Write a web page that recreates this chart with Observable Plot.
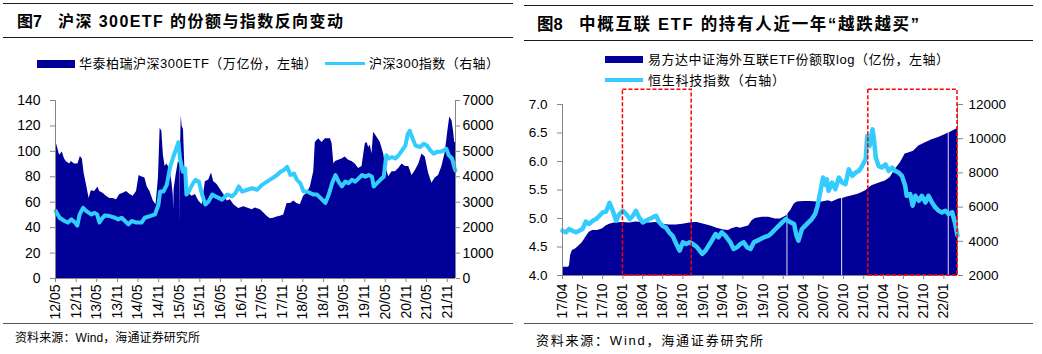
<!DOCTYPE html>
<html lang="zh">
<head>
<meta charset="utf-8">
<script src="https://cdn.jsdelivr.net/npm/d3@7"></script>
<script src="https://cdn.jsdelivr.net/npm/@observablehq/plot@0.6"></script>
<style>
html,body{margin:0;padding:0;background:#fff;}
#page{position:relative;width:1042px;height:354px;overflow:hidden;background:#fff;font-family:"Liberation Sans","Noto Sans CJK SC",sans-serif;color:#000;}
#page .t{position:absolute;white-space:nowrap;display:inline-block;line-height:1;}
#page .blk{position:absolute;}
#page svg{position:absolute;overflow:visible;}
</style>
</head>
<body>
<div id="page"></div>
<script>
// ================= LEFT CHART DATA (图7) =================
const etfDates = [
  "2012-05-04","2012-05-25","2012-06-06","2012-06-30","2012-07-20","2012-08-04","2012-09-03","2012-09-18","2012-10-17","2012-11-16","2012-12-07","2012-12-25",
  "2013-01-09","2013-01-30","2013-02-23","2013-03-14","2013-04-13","2013-05-12","2013-05-27","2013-06-26","2013-07-26","2013-08-25","2013-09-24","2013-10-24","2013-11-22","2013-12-22",
  "2014-01-21","2014-02-20","2014-03-20","2014-04-19","2014-05-12","2014-06-02","2014-07-02","2014-07-23","2014-08-16","2014-09-15","2014-10-09","2014-10-30","2014-11-14","2014-11-29","2014-12-13","2014-12-28",
  "2015-01-12","2015-01-27","2015-02-11","2015-02-26","2015-03-10","2015-03-14","2015-03-18","2015-04-04","2015-04-25","2015-05-08","2015-05-10","2015-05-12","2015-05-20","2015-05-28","2015-06-09","2015-06-24","2015-07-05","2015-07-25","2015-08-24","2015-09-23","2015-10-22","2015-11-21","2015-12-20",
  "2016-01-19","2016-02-12","2016-03-03","2016-04-02","2016-05-01","2016-05-31","2016-06-30","2016-07-29","2016-08-28","2016-10-11","2016-11-25",
  "2017-01-08","2017-02-07","2017-03-07","2017-04-20","2017-05-19","2017-06-18","2017-07-17","2017-08-16","2017-09-15","2017-10-15","2017-11-13","2017-12-13",
  "2018-01-12","2018-02-11","2018-03-10","2018-04-09","2018-05-08","2018-06-07","2018-07-07","2018-08-06","2018-08-20","2018-09-19","2018-10-18","2018-11-17","2018-12-02",
  "2019-01-01","2019-01-16","2019-01-31","2019-02-15","2019-03-14","2019-04-13","2019-05-12","2019-06-11","2019-07-10","2019-08-09","2019-09-08","2019-10-08","2019-10-22","2019-11-06","2019-11-21","2019-12-06","2019-12-20",
  "2020-01-04","2020-01-19","2020-02-18","2020-03-18","2020-04-17","2020-05-01","2020-05-31","2020-06-30","2020-07-29","2020-08-28","2020-09-27","2020-10-26","2020-11-25","2020-12-24",
  "2021-01-23","2021-02-22","2021-03-22","2021-04-20","2021-05-19","2021-06-18","2021-07-17","2021-08-16","2021-09-15","2021-10-15","2021-11-05","2021-11-23","2021-12-13","2021-12-28","2022-01-06","2022-01-13"
];
const etfShares = [
  108,101,97,99.5,94,92,90,92,90,90,96,94,
  83,74,63,69,68.5,72,68.5,67,64.6,63,63,62,66,67,
  68.5,66,64.6,68.5,81,80,79,72,68.5,61,58,79,118,116,97,88,
  90,88,84,76,66,54,70,81,92,90,41,95,128,120,117,80,68,67,64.6,66,61,58,76,
  77.5,83,76,74,70,66,61,62,58,55,56.5,
  55,54,55.5,54,51.7,49,47,47.3,48.3,49,50,59,
  59,61,59,58,64.6,67,72,84,107,110,107,110,110,
  110,106,90,92,93,94,95.6,93,92,90,86.6,88,97,106,107,103,105,
  98,115,111,107,98,89,80,84,84,86.6,90,88,88,81,
  85,90,98,95.6,83,75,79,81,88,99.5,115,127,124,115,107,107
];
const csiDates = [
  "2012-05-04","2012-06-06","2012-07-20","2012-08-19","2012-09-18","2012-10-26","2012-11-10","2012-12-01",
  "2013-01-01","2013-01-30","2013-03-14","2013-04-13","2013-05-05","2013-05-25","2013-06-11","2013-07-11","2013-08-25","2013-10-09","2013-11-08","2013-12-08",
  "2014-01-07","2014-02-06","2014-03-06","2014-04-19","2014-06-02","2014-07-02","2014-08-16","2014-09-30","2014-10-30","2014-11-14","2014-12-13",
  "2015-01-12","2015-02-11","2015-03-11","2015-04-10","2015-04-25","2015-05-09","2015-06-03","2015-06-24","2015-07-05","2015-07-25","2015-08-24","2015-09-23","2015-10-22","2015-11-21","2015-12-20",
  "2016-01-19","2016-02-18","2016-03-17","2016-04-16","2016-05-16","2016-06-30","2016-08-13","2016-09-12","2016-10-11","2016-11-10","2016-12-24",
  "2017-02-07","2017-03-22","2017-05-05","2017-06-18","2017-08-02","2017-09-15","2017-10-15","2017-11-13","2017-12-13",
  "2018-01-12","2018-02-11","2018-03-10","2018-04-09","2018-05-08","2018-06-07","2018-07-07","2018-08-06","2018-09-04","2018-10-04","2018-11-02","2018-11-17","2018-12-17",
  "2019-01-16","2019-02-15","2019-03-14","2019-04-13","2019-05-12","2019-06-11","2019-07-10","2019-08-09","2019-09-08","2019-10-08","2019-11-06","2019-12-06",
  "2020-01-04","2020-01-19","2020-02-18","2020-03-18","2020-04-17","2020-05-10","2020-05-31","2020-06-30","2020-07-29","2020-08-28","2020-09-27","2020-10-26","2020-11-16","2020-12-04","2020-12-24",
  "2021-01-23","2021-03-07","2021-04-06","2021-05-05","2021-06-04","2021-07-03","2021-08-02","2021-09-01","2021-10-01","2021-10-24","2021-11-14","2021-12-13","2022-01-06","2022-01-13"
];
const csiIndex = [
  2650,2390,2260,2200,2325,2180,2080,2520,
  2780,2650,2520,2580,2520,2200,2325,2480,2455,2390,2325,2390,
  2260,2130,2260,2200,2200,2390,2455,2520,2900,3420,3420,
  3680,4390,4780,5170,5360,4720,4200,4330,3300,3420,3680,3880,3810,3300,2910,
  3040,3300,3230,3170,3100,3300,3230,3360,3620,3420,3490,
  3550,3490,3680,3810,3940,4070,4200,4260,4390,
  4070,4130,3880,3750,3420,3420,3360,3300,3300,3170,3040,2970,3300,
  3750,4070,3810,3620,3810,3750,3880,3810,3940,4070,4000,4070,
  4000,3620,3750,3880,4000,4850,4720,4780,4720,4850,5040,5230,5680,5810,5560,
  5230,5170,5300,5230,5040,4910,4980,4980,5040,5100,4850,4720,4330,4250
];
const leftXTickLabels = ["12/05","12/11","13/05","13/11","14/05","14/11","15/05","15/11","16/05","16/11","17/05","17/11","18/05","18/11","19/05","19/11","20/05","20/11","21/05","21/11"];
const leftXDomain = ["2012-05-01","2022-01-13"];
const etfAxisTicks = [0,20,40,60,80,100,120,140];
const csiAxisTicks = [0,1000,2000,3000,4000,5000,6000,7000];

// ================= RIGHT CHART DATA (图8) =================
const kwebDates = [
  "2017-04-01","2017-04-28","2017-05-03","2017-05-08","2017-05-16","2017-06-01","2017-06-16","2017-07-01","2017-07-16","2017-08-01","2017-08-16","2017-09-08","2017-10-01","2017-10-16","2017-11-01","2017-11-23",
  "2018-01-01","2018-02-01","2018-03-01","2018-04-01","2018-05-01","2018-06-01","2018-07-01","2018-08-01","2018-09-01","2018-10-01","2018-11-01","2018-11-23","2018-12-05",
  "2019-01-05","2019-02-05","2019-03-05","2019-04-05","2019-04-27","2019-05-12","2019-06-05","2019-06-20","2019-07-05","2019-07-27","2019-08-12","2019-08-27","2019-09-27","2019-10-27","2019-11-27","2019-12-19",
  "2020-01-12","2020-01-18","2020-01-20","2020-01-22","2020-02-04","2020-02-19","2020-03-04","2020-04-03","2020-05-03","2020-06-03","2020-06-25","2020-07-25","2020-08-10","2020-09-10","2020-09-23","2020-09-25","2020-09-27","2020-10-10","2020-11-10","2020-12-10",
  "2021-01-10","2021-01-25","2021-02-10","2021-03-10","2021-04-10","2021-05-02","2021-05-24","2021-06-17","2021-07-09","2021-07-24","2021-08-16","2021-09-09","2021-10-09","2021-11-08","2021-12-08","2022-01-08","2022-01-21","2022-01-23","2022-01-25","2022-02-08","2022-03-04"
];
const kwebLogShares = [
  4.146,4.146,4.17,4.35,4.44,4.47,4.52,4.58,4.67,4.76,4.79,4.79,4.82,4.87,4.90,4.92,
  4.93,4.92,4.94,4.93,4.92,4.93,4.90,4.885,4.885,4.90,4.92,4.93,4.93,
  4.90,4.87,4.83,4.80,4.79,4.82,4.845,4.83,4.845,4.87,4.96,5.00,5.02,5.02,4.99,4.99,
  5.04,5.06,null,5.08,5.14,5.25,5.29,5.30,5.30,5.29,5.29,5.31,5.29,5.34,5.35,null,5.35,5.37,5.40,5.43,
  5.485,5.54,5.58,5.62,5.66,5.72,5.86,5.98,6.13,6.15,6.18,6.27,6.33,6.38,6.42,6.475,6.50,null,6.50,6.53,6.58
];
const hstechDates = [
  "2017-04-01","2017-04-16","2017-05-01","2017-05-16","2017-06-01","2017-06-16","2017-07-01","2017-07-16","2017-08-01","2017-08-16","2017-09-01","2017-09-16","2017-10-01","2017-10-16","2017-11-01","2017-11-16","2017-12-01","2017-12-16",
  "2018-01-01","2018-01-16","2018-02-01","2018-02-16","2018-03-01","2018-03-16","2018-04-01","2018-04-16","2018-05-01","2018-05-16","2018-06-01","2018-06-16","2018-07-01","2018-07-16","2018-08-01","2018-08-16","2018-09-01","2018-09-16","2018-10-01","2018-10-16","2018-11-01","2018-11-16","2018-12-05","2018-12-28",
  "2019-01-12","2019-02-05","2019-02-27","2019-03-12","2019-03-27","2019-04-12","2019-05-05","2019-05-20","2019-06-05","2019-06-20","2019-07-05","2019-07-20","2019-08-05","2019-08-20","2019-09-05","2019-09-20","2019-10-05","2019-10-27","2019-11-12","2019-11-27","2019-12-12","2019-12-27",
  "2020-01-12","2020-01-22","2020-02-04","2020-02-19","2020-03-01","2020-03-10","2020-03-26","2020-04-10","2020-04-25","2020-05-10","2020-05-25","2020-06-05","2020-06-17","2020-06-30","2020-07-10","2020-07-17","2020-07-25","2020-08-10","2020-08-25","2020-09-10","2020-09-25","2020-10-10","2020-10-25","2020-11-10","2020-11-25","2020-12-10","2020-12-25",
  "2021-01-10","2021-01-17","2021-01-28","2021-02-10","2021-02-17","2021-02-25","2021-03-10","2021-03-25","2021-04-10","2021-04-25","2021-05-10","2021-05-24","2021-06-09","2021-06-24","2021-07-09","2021-07-16","2021-08-01","2021-08-12","2021-08-24","2021-09-09","2021-09-23","2021-10-09","2021-10-23","2021-11-08","2021-11-23","2021-12-08","2021-12-23","2022-01-08","2022-01-23","2022-02-08","2022-02-20","2022-03-04"
];
const hstechIndex = [
  4622,4525,4720,4622,4525,4622,4720,5146,5010,5204,5300,5495,5690,5730,6250,5786,5204,5592,
  5786,5592,5300,5495,5786,5398,5107,5204,5300,5398,5495,5100,4900,4800,4500,4300,3845,3456,3942,3845,3942,3845,3650,3262,
  3456,3942,4427,4233,4525,4330,3942,3553,3650,3845,3942,3650,3553,3942,4040,4137,4233,4330,4525,4720,4913,5107,
  5300,5204,5107,5010,4330,4040,4720,4913,5107,5300,5592,6078,6855,7729,7300,7632,6952,7438,7050,7729,7438,7341,8214,7826,8020,8117,8408,
  8797,10156,9574,10545,9962,8894,8408,8311,8505,8117,8311,8117,8020,7826,7244,6661,6758,6078,6661,6370,6661,6273,6661,6273,5981,5786,5690,5786,5592,5690,5107,4330
];
const rightXTickLabels = ["17/04","17/07","17/10","18/01","18/04","18/07","18/10","19/01","19/04","19/07","19/10","20/01","20/04","20/07","20/10","21/01","21/04","21/07","21/10","22/01"];
const rightXDomain = ["2017-04-01","2022-03-04"];
const logAxisTicks = [4.0,4.5,5.0,5.5,6.0,6.5,7.0];
const hstechAxisTicks = [2000,4000,6000,8000,10000,12000];
const boxStarts = ["2018-01-01","2021-01-22"];
const boxEnds = ["2018-11-10","2022-03-04"];
const boxLogRange = [4.0, 7.26];

// ================= TEXT =================
const leftTitleNo = "图7", leftTitle = "沪深 300ETF 的份额与指数反向变动";
const leftLegend = ["华泰柏瑞沪深300ETF（万亿份，左轴）", "沪深300指数（右轴）"];
const rightTitleNo = "图8", rightTitle = "中概互联 ETF 的持有人近一年“越跌越买”";
const rightLegend = ["易方达中证海外互联ETF份额取log（亿份，左轴）", "恒生科技指数（右轴）"];
const sourceText = "资料来源：Wind，海通证券研究所";

// ================= HELPERS =================
const DARK = "#000099", LIGHT = "#33CCFF", AXIS = "#868686";
const page = document.getElementById("page");
const parseDate = s => new Date(s);
const tickDate = s => { const [yy, mm] = s.split("/").map(Number); return new Date(Date.UTC(2000 + yy, mm - 1, 1)); };

function block(x, y, w, h, color) {
  const d = document.createElement("div");
  d.className = "blk";
  Object.assign(d.style, {left: x + "px", top: y + "px", width: w + "px", height: h + "px", background: color});
  page.appendChild(d);
}
function label(str, x, cy, size, weight, target) {
  const d = document.createElement("div");
  d.className = "t";
  d.textContent = str;
  Object.assign(d.style, {left: x + "px", top: "0px", fontSize: size + "px", fontWeight: weight});
  page.appendChild(d);
  const r = d.getBoundingClientRect();
  if (target) {
    const n = [...str].length;
    d.style.letterSpacing = ((target - r.width) / (n - 1)).toFixed(2) + "px";
  }
  d.style.top = (cy - r.height / 2) + "px";
}

// ================= LEFT PANEL =================
block(3, 2.5, 510, 1.5, "#1a1a1a");
label(leftTitleNo, 17, 22, 16, "bold");
label(leftTitle, 58, 22, 16, "bold", 285);
block(3, 36.5, 510, 1.5, "#1a1a1a");
block(37, 60, 38, 7.5, DARK);
label(leftLegend[0], 79, 63.5, 13, "normal", 238);
block(325, 61.8, 40, 3.2, LIGHT);
label(leftLegend[1], 369, 63.5, 13, "normal", 130);
block(3, 322.5, 510, 1.5, "#555");
label(sourceText, 15, 338, 12, "normal", 185);

const etf = d3.zip(etfDates, etfShares).map(([d, v]) => ({date: parseDate(d), v}));
const csi = d3.zip(csiDates, csiIndex).map(([d, v]) => ({date: parseDate(d), v}));
const csiRatio = csiAxisTicks[csiAxisTicks.length - 1] / etfAxisTicks[etfAxisTicks.length - 1];
const lx0 = parseDate(leftXDomain[0]), lx1 = parseDate(leftXDomain[1]);

const leftPlot = Plot.plot({
  width: 513, height: 232,
  marginTop: 10, marginRight: 58, marginBottom: 44, marginLeft: 55,
  style: {fontFamily: '"Liberation Sans", Arial, sans-serif', background: "transparent", color: "#000"},
  x: {type: "utc", domain: [lx0, lx1]},
  y: {domain: [etfAxisTicks[0], etfAxisTicks[etfAxisTicks.length - 1]]},
  marks: [
    Plot.areaY(etf, {x: "date", y: "v", fill: DARK}),
    Plot.lineY(csi, {x: "date", y: d => d.v / csiRatio, stroke: LIGHT, strokeWidth: 4, strokeLinejoin: "round"}),
    Plot.ruleX([lx0], {stroke: AXIS}),
    Plot.ruleX([lx1], {stroke: AXIS}),
    Plot.ruleY([etfAxisTicks[0]], {stroke: AXIS}),
    Plot.axisY(etfAxisTicks, {anchor: "left", tickSize: 5, tickPadding: 10, fontSize: 14, stroke: AXIS, fill: "#000", label: null, tickFormat: d => String(d)}),
    Plot.axisY(csiAxisTicks.map(v => v / csiRatio), {anchor: "right", tickSize: 4, tickPadding: 3, fontSize: 14, stroke: AXIS, fill: "#000", label: null, tickFormat: d => String(Math.round(d * csiRatio))}),
    Plot.axisX(leftXTickLabels.map(tickDate), {anchor: "bottom", tickRotate: -90, tickSize: 4, tickPadding: 2, fontSize: 14, stroke: AXIS, fill: "#000", label: null, tickFormat: d3.utcFormat("%y/%m")})
  ]
});
leftPlot.style.left = "0px";
leftPlot.style.top = "90px";
page.appendChild(leftPlot);

// ================= RIGHT PANEL =================
block(524, 4.5, 509, 1.5, "#1a1a1a");
label(rightTitleNo, 537, 24, 16.5, "bold");
label(rightTitle, 579, 24, 16.5, "bold", 340);
block(524, 39.5, 509, 1.5, "#1a1a1a");
block(605, 56, 38, 6.5, DARK);
label(rightLegend[0], 648, 59.5, 13, "normal", 301);
block(605, 78.4, 38, 3.2, LIGHT);
label(rightLegend[1], 648, 80, 13, "normal", 137);
block(524, 322.5, 509, 1.5, "#555");
label(sourceText, 536, 340.5, 13, "normal", 227);

const kweb = d3.zip(kwebDates, kwebLogShares).map(([d, v]) => ({date: parseDate(d), v}));
const hstech = d3.zip(hstechDates, hstechIndex).map(([d, v]) => ({date: parseDate(d), v}));
const boxes = d3.zip(boxStarts, boxEnds).map(([s, e]) => ({start: parseDate(s), end: parseDate(e), lo: boxLogRange[0], hi: boxLogRange[1]}));
const logMin = logAxisTicks[0], logMax = logAxisTicks[logAxisTicks.length - 1];
const hsMin = hstechAxisTicks[0], hsMax = hstechAxisTicks[hstechAxisTicks.length - 1];
const hsToLog = v => logMin + (v - hsMin) / (hsMax - hsMin) * (logMax - logMin);
const logToHs = v => hsMin + (v - logMin) / (logMax - logMin) * (hsMax - hsMin);
const rx0 = parseDate(rightXDomain[0]), rx1 = parseDate(rightXDomain[1]);

const rightPlot = Plot.plot({
  width: 522, height: 237,
  marginTop: 19, marginRight: 85, marginBottom: 47, marginLeft: 42,
  style: {fontFamily: '"Liberation Sans", Arial, sans-serif', background: "transparent", color: "#000"},
  x: {type: "utc", domain: [rx0, rx1]},
  y: {domain: [logMin, logMax]},
  marks: [
    Plot.areaY(kweb, {x: "date", y1: logMin, y2: "v", fill: DARK}),
    Plot.lineY(hstech, {x: "date", y: d => hsToLog(d.v), stroke: LIGHT, strokeWidth: 4.5, strokeLinejoin: "round"}),
    Plot.ruleX([rx0], {stroke: AXIS}),
    Plot.ruleX([rx1], {stroke: AXIS}),
    Plot.ruleY([logMin], {stroke: AXIS}),
    Plot.rect(boxes, {x1: "start", x2: "end", y1: "lo", y2: "hi", fill: "none", stroke: "#FF0000", strokeWidth: 1.5, strokeDasharray: "4,2"}),
    Plot.axisY(logAxisTicks, {anchor: "left", tickSize: 5, tickPadding: 10, fontSize: 13.5, stroke: AXIS, fill: "#000", label: null, tickFormat: d3.format(".1f")}),
    Plot.axisY(hstechAxisTicks.map(hsToLog), {anchor: "right", tickSize: 5, tickPadding: 6, fontSize: 13.5, stroke: AXIS, fill: "#000", label: null, tickFormat: d => String(Math.round(logToHs(d)))}),
    Plot.axisX(rightXTickLabels.map(tickDate), {anchor: "bottom", tickRotate: -90, tickSize: 4, tickPadding: 4, fontSize: 14, stroke: AXIS, fill: "#000", label: null, tickFormat: d3.utcFormat("%y/%m")})
  ]
});
rightPlot.style.left = "520px";
rightPlot.style.top = "85px";
page.appendChild(rightPlot);
</script>
</body>
</html>
